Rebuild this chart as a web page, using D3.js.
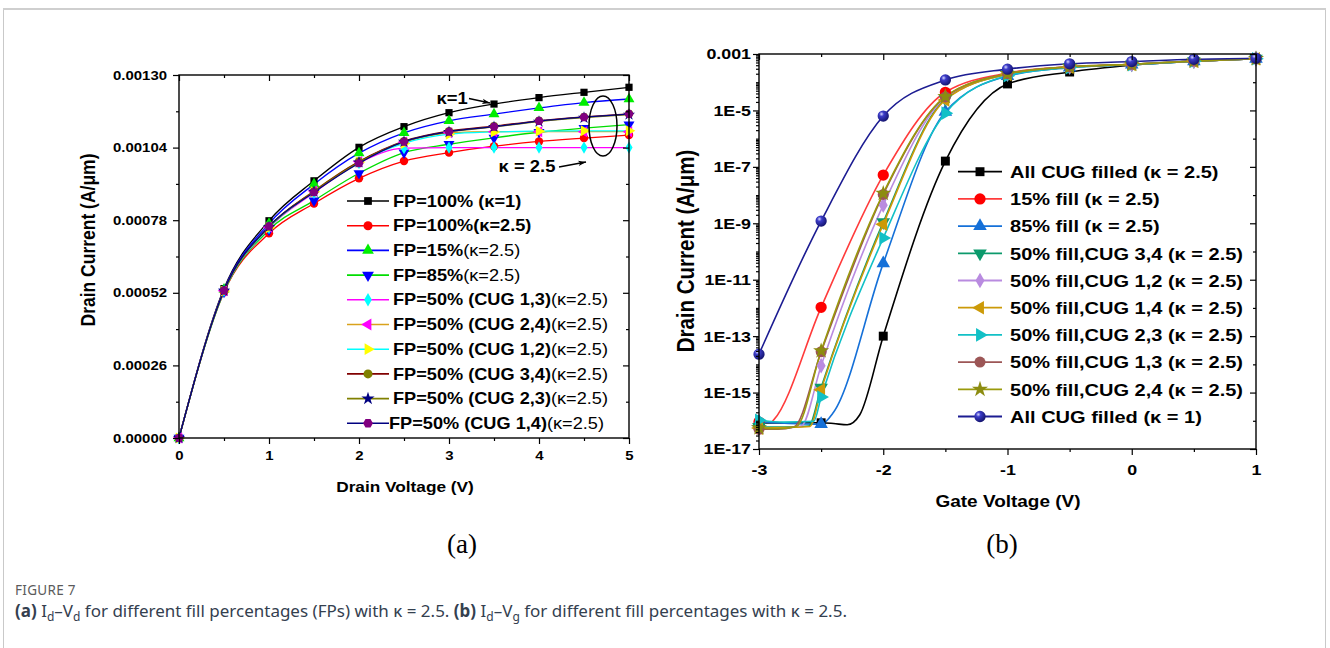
<!DOCTYPE html>
<html>
<head>
<meta charset="utf-8">
<script src="https://cdn.jsdelivr.net/npm/d3@7"></script>
<style>
  body { margin: 0; background: #fff; }
  svg text { font-family: "Liberation Sans", Arial, sans-serif; fill: #000; }
  .cap { font-family: "Noto Sans", "Open Sans", sans-serif; }
</style>
</head>
<body>
<svg id="fig" width="1330" height="648"></svg>
<script>
// ---------- panel (a): drain current vs drain voltage ----------
const vdSteps = [0, 0.5, 1, 1.5, 2, 2.5, 3, 3.5, 4, 4.5, 5];
const vdTicks = [0, 1, 2, 3, 4, 5];
const idTicksA = [0, 0.00026, 0.00052, 0.00078, 0.00104, 0.0013];

const idFp100k1 = [0, 0.000535, 0.000778, 0.000921, 0.001041, 0.001115, 0.001165, 0.001196, 0.001219, 0.001238, 0.001256];
const idFp100   = [0, 0.000522, 0.000733, 0.000840, 0.000930, 0.000992, 0.001022, 0.001045, 0.001062, 0.001074, 0.001085];
const idFp15    = [0, 0.000532, 0.000768, 0.000909, 0.001020, 0.001093, 0.001136, 0.001160, 0.001182, 0.001201, 0.001214];
const idFp85    = [0, 0.000523, 0.000745, 0.000850, 0.000948, 0.001022, 0.001052, 0.001075, 0.001095, 0.001110, 0.001122];
const idCug13   = [0, 0.000527, 0.000752, 0.000878, 0.000985, 0.001038, 0.001040, 0.001040, 0.001040, 0.001040, 0.001040];
const idCug24   = [0, 0.000527, 0.000755, 0.000885, 0.000990, 0.001060, 0.001093, 0.001097, 0.001097, 0.001097, 0.001097];
const idCug12   = [0, 0.000526, 0.000753, 0.000882, 0.000988, 0.001055, 0.001088, 0.001096, 0.001099, 0.001100, 0.001100];
const idCug34   = [0, 0.000528, 0.000757, 0.000884, 0.000990, 0.001063, 0.001099, 0.001117, 0.001136, 0.001150, 0.001161];
const idCug23   = [0, 0.000527, 0.000756, 0.000882, 0.000987, 0.001061, 0.001096, 0.001114, 0.001133, 0.001147, 0.001158];
const idCug14   = [0, 0.000528, 0.000758, 0.000880, 0.000984, 0.001061, 0.001097, 0.001115, 0.001135, 0.001149, 0.001160];

// legend text: [bold part, normal part]
const legendA = [
  ["FP=100% (κ=1)", ""],
  ["FP=100%(κ=2.5)", ""],
  ["FP=15%", "(κ=2.5)"],
  ["FP=85%", "(κ=2.5)"],
  ["FP=50% (CUG 1,3)", "(κ=2.5)"],
  ["FP=50% (CUG 2,4)", "(κ=2.5)"],
  ["FP=50% (CUG 1,2)", "(κ=2.5)"],
  ["FP=50% (CUG 3,4)", "(κ=2.5)"],
  ["FP=50% (CUG 2,3)", "(κ=2.5)"],
  ["FP=50% (CUG 1,4)", "(κ=2.5)"]
];

// ---------- panel (b): drain current vs gate voltage ----------
const vgTicks = [-3, -2, -1, 0, 1];
const idTicksB = [1e-3, 1e-5, 1e-7, 1e-9, 1e-11, 1e-13, 1e-15, 1e-17];

const vgAllK25 = [-3, -2.5, -2.4, -2.29, -2.19, -2, -1.5, -1, -0.5, 0, 0.5, 1];
const idAllK25 = [8.3e-17, 8.5e-17, 8.0e-17, 7.2e-17, 1.6e-16, 1.0e-13, 1.6e-7, 8.7e-5, 2.3e-4, 4.0e-4, 5.5e-4, 6.8e-4];
const vgFill15 = [-3, -2.9, -2.88, -2.5, -2, -1.5, -1, -0.5, 0, 0.5, 1];
const idFill15 = [9e-17, 9e-17, 1.1e-16, 1.05e-12, 5.1e-8, 4.4e-5, 2.1e-4, 3.5e-4, 4.3e-4, 5.6e-4, 6.8e-4];
const vgFill85 = [-3, -2.5, -2.4, -2, -1.5, -1, -0.5, 0, 0.5, 1];
const idFill85 = [9e-17, 7.6e-17, 2.0e-16, 3.8e-11, 9e-6, 1.65e-4, 3.3e-4, 4.2e-4, 5.5e-4, 6.8e-4];
const vgCug34 = [-3, -2.8, -2.6, -2.5, -2, -1.5, -1, -0.5, 0, 0.5, 1];
const idCug34b = [6e-17, 6e-17, 6.5e-17, 1.5e-15, 1.1e-9, 2.5e-5, 1.9e-4, 3.4e-4, 4.3e-4, 5.6e-4, 6.8e-4];
const vgCug12 = [-3, -2.85, -2.66, -2.5, -2, -1.5, -1, -0.5, 0, 0.5, 1];
const idCug12b = [5.5e-17, 5.3e-17, 6.5e-17, 9e-15, 4.4e-9, 2.8e-5, 1.95e-4, 3.45e-4, 4.3e-4, 5.6e-4, 6.8e-4];
const vgCug14 = [-3, -2.8, -2.59, -2.5, -2, -1.5, -1, -0.5, 0, 0.5, 1];
const idCug14b = [5.5e-17, 5.8e-17, 6.3e-17, 1.25e-15, 9.3e-10, 2.35e-5, 1.9e-4, 3.4e-4, 4.3e-4, 5.6e-4, 6.8e-4];
const vgCug23 = [-3, -2.8, -2.56, -2.5, -2, -1.5, -1, -0.5, 0, 0.5, 1];
const idCug23b = [1.05e-16, 9e-17, 9.5e-17, 7e-16, 3e-10, 8e-6, 1.7e-4, 3.3e-4, 4.2e-4, 5.5e-4, 6.8e-4];
const vgCug13 = [-3, -2.85, -2.72, -2.5, -2, -1.5, -1, -0.5, 0, 0.5, 1];
const idCug13b = [5e-17, 5e-17, 6e-17, 2.8e-14, 1.05e-8, 3.0e-5, 2.0e-4, 3.5e-4, 4.3e-4, 5.6e-4, 6.8e-4];
const vgCug24 = [-3, -2.85, -2.7, -2.5, -2, -1.5, -1, -0.5, 0, 0.5, 1];
const idCug24b = [5.6e-17, 5.2e-17, 6.3e-17, 3.0e-14, 1.15e-8, 3.1e-5, 2.0e-4, 3.5e-4, 4.3e-4, 5.6e-4, 6.8e-4];
const vgAllK1 = [-3, -2.5, -2, -1.5, -1, -0.5, 0, 0.5, 1];
const idAllK1 = [2.3e-14, 1.2e-9, 6.3e-6, 1.2e-4, 2.9e-4, 4.5e-4, 5.4e-4, 6.5e-4, 7.1e-4];

const legendB = [
  "All CUG filled (κ = 2.5)",
  "15% fill (κ = 2.5)",
  "85% fill (κ = 2.5)",
  "50% fill,CUG 3,4 (κ = 2.5)",
  "50% fill,CUG 1,2 (κ = 2.5)",
  "50% fill,CUG 1,4 (κ = 2.5)",
  "50% fill,CUG 2,3 (κ = 2.5)",
  "50% fill,CUG 1,3 (κ = 2.5)",
  "50% fill,CUG 2,4 (κ = 2.5)",
  "All CUG filled (κ = 1)"
];

// ---------- shared bits ----------
const svg = d3.select("#fig");
const WIDE = 1.15;   // the figure text is drawn slightly stretched sideways

const symbolHex = {
  draw(ctx, size) {
    const r = Math.sqrt(2 * size / (3 * Math.sqrt(3)));
    for (let i = 0; i < 6; i++) {
      const a = Math.PI / 3 * i;
      const px = r * Math.cos(a), py = r * Math.sin(a);
      if (i === 0) ctx.moveTo(px, py); else ctx.lineTo(px, py);
    }
    ctx.closePath();
  }
};

const shapes = {
  square: [d3.symbolSquare, 0],
  circle: [d3.symbolCircle, 0],
  up: [d3.symbolTriangle, 0],
  down: [d3.symbolTriangle, 180],
  left: [d3.symbolTriangle, -90],
  right: [d3.symbolTriangle, 90],
  diamond: [d3.symbolDiamond, 0],
  star: [d3.symbolStar, 0],
  hex: [symbolHex, 0],
  ball: [d3.symbolCircle, 0]
};

const defs = svg.append("defs");
const ball = defs.append("radialGradient").attr("id", "ball")
  .attr("cx", "35%").attr("cy", "32%").attr("r", "70%");
ball.append("stop").attr("offset", "0%").attr("stop-color", "#d8d8ff");
ball.append("stop").attr("offset", "30%").attr("stop-color", "#3c3cc8");
ball.append("stop").attr("offset", "100%").attr("stop-color", "#14146e");

defs.append("marker").attr("id", "arrow")
  .attr("viewBox", "0 0 10 10").attr("refX", 10).attr("refY", 5)
  .attr("markerWidth", 7).attr("markerHeight", 6).attr("orient", "auto")
  .append("path").attr("d", "M0,1.5 L10,5 L0,8.5 L2.5,5 z").attr("fill", "#000");

function drawMarker(g, x, y, shape, size, colour) {
  const [type, rot] = shapes[shape];
  g.append("path")
    .attr("d", d3.symbol().type(type).size(size)())
    .attr("transform", `translate(${x},${y}) rotate(${rot})`)
    .attr("fill", shape === "ball" ? "url(#ball)" : colour);
}

function widen(sel) {
  sel.selectAll(".tick text").each(function () {
    const t = d3.select(this);
    const x = +t.attr("x") || 0;
    t.attr("transform", `translate(${x},0) scale(${WIDE},1)`).attr("x", 0);
  });
}

function styleAxis(sel, fontSize) {
  sel.select(".domain").remove();
  sel.selectAll(".tick line").attr("stroke", "#000").attr("stroke-width", 1.2);
  sel.selectAll(".tick text").attr("font-size", fontSize).attr("font-weight", "bold").attr("fill", "#000");
  widen(sel);
}

function addText(x, y, str, size, opts = {}) {
  const rot = opts.rotate ? " rotate(-90) scale(1," + WIDE + ")" : " scale(" + WIDE + ",1)";
  return svg.append("text")
    .attr("transform", `translate(${x},${y})${rot}`)
    .attr("text-anchor", opts.anchor || "middle")
    .attr("font-size", size)
    .attr("font-weight", opts.weight || "bold")
    .text(str);
}

function frameAxes(x, y, xMajor, xMinor, yMajor, yMinor, xFmt, yFmt, fonts) {
  const [x0, x1] = x.range();
  const [y1, y0] = y.range();
  const gb = svg.append("g").attr("transform", `translate(0,${y1})`)
    .call(d3.axisBottom(x).tickValues(xMajor).tickSize(6).tickPadding(fonts.xPad).tickFormat(xFmt));
  styleAxis(gb, fonts.x);
  const gbm = svg.append("g").attr("transform", `translate(0,${y1})`)
    .call(d3.axisBottom(x).tickValues(xMinor).tickSize(3).tickFormat(""));
  styleAxis(gbm, fonts.x);
  const gt = svg.append("g").attr("transform", `translate(0,${y0})`)
    .call(d3.axisTop(x).tickValues(xMajor).tickSize(-6).tickFormat(""));
  styleAxis(gt, fonts.x);
  const gtm = svg.append("g").attr("transform", `translate(0,${y0})`)
    .call(d3.axisTop(x).tickValues(xMinor).tickSize(-3).tickFormat(""));
  styleAxis(gtm, fonts.x);

  const gl = svg.append("g").attr("transform", `translate(${x0},0)`)
    .call(d3.axisLeft(y).tickValues(yMajor).tickSize(6).tickPadding(fonts.yPad).tickFormat(yFmt));
  styleAxis(gl, fonts.y);
  const glm = svg.append("g").attr("transform", `translate(${x0},0)`)
    .call(d3.axisLeft(y).tickValues(yMinor).tickSize(3).tickFormat(""));
  styleAxis(glm, fonts.y);
  const gr = svg.append("g").attr("transform", `translate(${x1},0)`)
    .call(d3.axisRight(y).tickValues(yMajor).tickSize(-6).tickFormat(""));
  styleAxis(gr, fonts.y);
  const grm = svg.append("g").attr("transform", `translate(${x1},0)`)
    .call(d3.axisRight(y).tickValues(yMinor).tickSize(-3).tickFormat(""));
  styleAxis(grm, fonts.y);

  svg.append("rect").attr("x", x0).attr("y", y0).attr("width", x1 - x0).attr("height", y1 - y0)
    .attr("fill", "none").attr("stroke", "#000").attr("stroke-width", 1.4);
}

// outer figure border
svg.append("rect").attr("x", 3.5).attr("y", 8.5).attr("width", 1322).attr("height", 700)
  .attr("fill", "none").attr("stroke", "#c9c9c9").attr("stroke-width", 1);
svg.append("line").attr("x1", 3).attr("x2", 1326).attr("y1", 9).attr("y2", 9)
  .attr("stroke", "#cfcfcf").attr("stroke-width", 2);

// ================= panel (a) =================
const xA = d3.scaleLinear().domain([0, 5]).range([179, 629]);
const yA = d3.scaleLinear().domain([0, 0.0013]).range([438, 75]);

const seriesA = [
  { y: idFp100k1, line: "#000000", mark: "#000000", shape: "square", size: 52 },
  { y: idFp100,   line: "#ff0000", mark: "#ff0000", shape: "circle", size: 56 },
  { y: idFp15,    line: "#0000ff", mark: "#00ee00", shape: "up",     size: 52 },
  { y: idFp85,    line: "#00dd00", mark: "#0000ff", shape: "down",   size: 52 },
  { y: idCug13,   line: "#ff00ff", mark: "#00ffff", shape: "diamond", size: 44 },
  { y: idCug24,   line: "#d9a21c", mark: "#ff00ff", shape: "left",   size: 52 },
  { y: idCug12,   line: "#00ffff", mark: "#ffff00", shape: "right",  size: 52 },
  { y: idCug34,   line: "#800000", mark: "#808000", shape: "circle", size: 56 },
  { y: idCug23,   line: "#808000", mark: "#000080", shape: "star",   size: 46 },
  { y: idCug14,   line: "#000080", mark: "#800080", shape: "hex",    size: 56 }
];

const lineA = d3.line().x((d, i) => xA(vdSteps[i])).y(d => yA(d)).curve(d3.curveMonotoneX);
const plotA = svg.append("g");
seriesA.forEach(s => {
  plotA.append("path").attr("d", lineA(s.y)).attr("fill", "none")
    .attr("stroke", s.line).attr("stroke-width", 1.3);
});
seriesA.forEach(s => {
  s.y.forEach((v, i) => drawMarker(plotA, xA(vdSteps[i]), yA(v), s.shape, s.size, s.mark));
});

frameAxes(xA, yA, vdTicks, [0.5, 1.5, 2.5, 3.5, 4.5],
  idTicksA, [0.00013, 0.00039, 0.00065, 0.00091, 0.00117],
  d3.format("d"), d3.format(".5f"), { x: 13, y: 13, xPad: 7, yPad: 6 });

// legend (a)
const legA = svg.append("g");
legendA.forEach((t, i) => {
  const ly = 201 + i * 24.7;
  const s = seriesA[i];
  legA.append("line").attr("x1", 347).attr("x2", 389).attr("y1", ly).attr("y2", ly)
    .attr("stroke", s.line).attr("stroke-width", 1.6);
  drawMarker(legA, 368, ly, s.shape, s.size + 8, s.mark);
  const tx = legA.append("text")
    .attr("transform", `translate(${i === 9 ? 389 : 393},${ly + 5.6}) scale(${WIDE},1)`)
    .attr("font-size", 15.8);
  tx.append("tspan").attr("font-weight", "bold").text(t[0]);
  if (t[1]) tx.append("tspan").attr("font-weight", "normal").text(t[1]);
});

// annotations (a)
addText(452, 104, "κ=1", 16);
svg.append("line").attr("x1", 469).attr("y1", 98.5).attr("x2", 490).attr("y2", 103)
  .attr("stroke", "#000").attr("stroke-width", 1.3).attr("marker-end", "url(#arrow)");
addText(527, 172, "κ = 2.5", 16);
svg.append("line").attr("x1", 559).attr("y1", 167).attr("x2", 586).attr("y2", 162)
  .attr("stroke", "#000").attr("stroke-width", 1.3).attr("marker-end", "url(#arrow)");
svg.append("ellipse").attr("cx", 603).attr("cy", 126).attr("rx", 14).attr("ry", 30)
  .attr("fill", "none").attr("stroke", "#000").attr("stroke-width", 1.5);

addText(405, 492, "Drain Voltage (V)", 15);
addText(95, 240, "Drain Current (A/μm)", 17.5, { rotate: true });
svg.append("text").attr("x", 462).attr("y", 553).attr("text-anchor", "middle")
  .style("font-family", "'Liberation Serif', serif").attr("font-size", 27).text("(a)");

// ================= panel (b) =================
const xB = d3.scaleLinear().domain([-3, 1]).range([759, 1256]);
const yB = d3.scaleLog().domain([1e-17, 1e-3]).range([449, 54]);

const seriesB = [
  { v: vgAllK25, y: idAllK25, line: "#000000", mark: "#000000", shape: "square", size: 80 },
  { v: vgFill15, y: idFill15, line: "#ff3b3b", mark: "#ff0000", shape: "circle", size: 100 },
  { v: vgFill85, y: idFill85, line: "#1570d8", mark: "#1570d8", shape: "up",     size: 80 },
  { v: vgCug34,  y: idCug34b, line: "#0c9a6c", mark: "#0c9a6c", shape: "down",   size: 80 },
  { v: vgCug12,  y: idCug12b, line: "#b98be0", mark: "#b98be0", shape: "diamond", size: 70 },
  { v: vgCug14,  y: idCug14b, line: "#cc9a08", mark: "#cc9a08", shape: "left",   size: 80 },
  { v: vgCug23,  y: idCug23b, line: "#12c0c6", mark: "#12c0c6", shape: "right",  size: 80 },
  { v: vgCug13,  y: idCug13b, line: "#9c5656", mark: "#9c5656", shape: "circle", size: 95 },
  { v: vgCug24,  y: idCug24b, line: "#9a9a0c", mark: "#8c8c10", shape: "star",   size: 80 },
  { v: vgAllK1,  y: idAllK1,  line: "#1c1c92", mark: "#1c1c92", shape: "ball",   size: 100 }
];

const lineB = d3.line().x(d => xB(d[0])).y(d => yB(d[1])).curve(d3.curveMonotoneX);
const plotB = svg.append("g");
seriesB.forEach(s => {
  const pts = s.v.map((v, i) => [v, s.y[i]]);
  plotB.append("path").attr("d", lineB(pts)).attr("fill", "none")
    .attr("stroke", s.line).attr("stroke-width", 1.6);
});
seriesB.forEach(s => {
  s.v.forEach((v, i) => {
    if (Math.abs(v * 2 - Math.round(v * 2)) < 1e-9) drawMarker(plotB, xB(v), yB(s.y[i]), s.shape, s.size, s.mark);
  });
});

// log axis ticks: labelled every 2 decades, medium on odd decades, minor in between
const oddDecades = d3.range(-16, -3, 2).map(e => Math.pow(10, e));
const minorLog = [];
for (let e = -17; e < -3; e++) for (let k = 2; k <= 9; k++) minorLog.push(k * Math.pow(10, e));
const fmtB = d => (Math.abs(d - 1e-3) < 1e-9 ? "0.001" : "1E" + Math.round(Math.log10(d)));

frameAxes(xB, yB, vgTicks, [-2.5, -1.5, -0.5, 0.5], idTicksB, oddDecades,
  d3.format("d"), fmtB, { x: 15.5, y: 15.5, xPad: 9, yPad: 2 });
const gMinor = svg.append("g").attr("transform", `translate(759,0)`)
  .call(d3.axisLeft(yB).tickValues(minorLog).tickSize(3).tickFormat(""));
styleAxis(gMinor, 10);
// x axis labels use a plain hyphen like the source
svg.selectAll("text").filter(function () { return this.textContent.startsWith("−"); })
  .text(function () { return this.textContent.replace("−", "-"); });

// legend (b)
const legB = svg.append("g");
legendB.forEach((t, i) => {
  const ly = 171.7 + i * 27.2;
  const s = seriesB[i];
  legB.append("line").attr("x1", 958).attr("x2", 1002).attr("y1", ly).attr("y2", ly)
    .attr("stroke", s.line).attr("stroke-width", 1.8);
  drawMarker(legB, 980, ly, s.shape, s.size, s.mark);
  legB.append("text")
    .attr("transform", `translate(1010,${ly + 6.2}) scale(${WIDE},1)`)
    .attr("font-size", 17.4).attr("font-weight", "bold").text(t);
});

addText(1008, 507, "Gate Voltage (V)", 16.5);
addText(694, 251, "Drain Current (A/μm)", 20.5, { rotate: true });
svg.append("text").attr("x", 1002).attr("y", 553).attr("text-anchor", "middle")
  .style("font-family", "'Liberation Serif', serif").attr("font-size", 27).text("(b)");

// ================= caption =================
svg.append("text").attr("class", "cap").attr("x", 15).attr("y", 595)
  .attr("font-size", 13.5).attr("letter-spacing", 0.3).style("fill", "#5b5b5b").text("FIGURE 7");
const cap = svg.append("text").attr("class", "cap").attr("x", 15).attr("y", 617)
  .attr("font-size", 17).style("fill", "#34404f");
function capRun(str, opts = {}) {
  const t = cap.append("tspan").text(str);
  if (opts.bold) t.attr("font-weight", "bold");
  if (opts.sub) t.attr("font-size", 12).attr("dy", 4);
  if (opts.up) t.attr("dy", -4);
  return t;
}
capRun("(a)", { bold: true }); capRun(" I"); capRun("d", { sub: true }); capRun("–V", { up: true });
capRun("d", { sub: true }); capRun(" for different fill percentages (FPs) with κ = 2.5. ", { up: true });
capRun("(b)", { bold: true }); capRun(" I"); capRun("d", { sub: true }); capRun("–V", { up: true });
capRun("g", { sub: true }); capRun(" for different fill percentages with κ = 2.5.", { up: true });
</script>
</body>
</html>
